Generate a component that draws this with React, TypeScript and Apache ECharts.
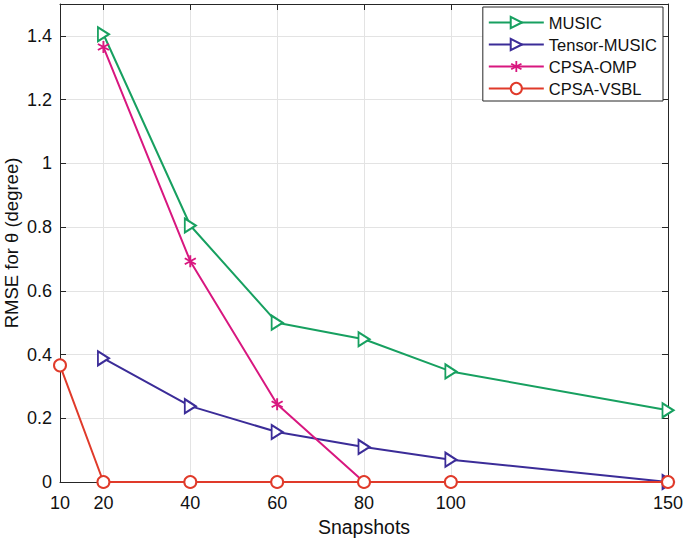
import React, { useEffect, useRef } from "react";
import * as echarts from "echarts";

const snapshots = [20, 40, 60, 80, 100, 150];
const music = [1.405, 0.805, 0.5, 0.448, 0.347, 0.225];
const tensorMusic = [0.388, 0.238, 0.157, 0.11, 0.07, 0.0];
const cpsaOmp = [1.365, 0.693, 0.244, 0.0, 0.0, 0.0];
const vsblSnapshots = [10, 20, 40, 60, 80, 100, 150];
const cpsaVsbl = [0.366, 0.0, 0.0, 0.0, 0.0, 0.0, 0.0];
const xTicks = [10, 20, 40, 60, 80, 100, 150];

const asterisk =
  "path://M-0.9,-6L0.9,-6L0.9,6L-0.9,6Z M4.746,-3.779L5.646,-2.221L-4.746,3.779L-5.646,2.221Z M5.646,2.221L4.746,3.779L-5.646,-2.221L-4.746,-3.779Z";

const FONT = "'Liberation Sans', Arial, sans-serif";

export default function App() {
  const ref = useRef<HTMLDivElement>(null);
  useEffect(() => {
    if (!ref.current) return;
    const chart = echarts.init(ref.current, undefined, { renderer: "svg" });
    const pair = (xs: number[], ys: number[]) => xs.map((x, i) => [x, ys[i]]);
    const axisLineStyle = { color: "#262626", width: 1 };
    chart.setOption({
      animation: false,
      backgroundColor: "#fff",
      textStyle: { fontFamily: FONT },
      grid: { left: 60, right: 17, top: 4, bottom: 60, containLabel: false, outerBoundsMode: "none" },
      legend: {
        orient: "vertical",
        right: 22,
        top: 7,
        padding: [7, 6, 4, 5],
        itemWidth: 55,
        itemHeight: 14,
        itemGap: 5,
        backgroundColor: "#fff",
        borderColor: "#262626",
        borderWidth: 1,
        borderRadius: 0,
        textStyle: { fontSize: 16.5, color: "#111", fontFamily: FONT },
        data: ["MUSIC", "Tensor-MUSIC", "CPSA-OMP", "CPSA-VSBL"],
      },
      xAxis: [
        {
          type: "value",
          min: 10,
          max: 150,
          name: "Snapshots",
          nameLocation: "middle",
          nameGap: 35,
          nameMoveOverlap: false,
          nameTextStyle: { fontSize: 19.5, color: "#111", fontFamily: FONT },
          axisLine: { show: true, onZero: false, lineStyle: axisLineStyle },
          axisTick: { show: true, inside: true, length: 6, customValues: xTicks, lineStyle: axisLineStyle },
          axisLabel: { customValues: xTicks, fontSize: 18, color: "#111", margin: 12, fontFamily: FONT },
          splitLine: { show: true, lineStyle: { color: "#e3e3e3", width: 1 } },
        },
        {
          type: "value",
          position: "top",
          min: 10,
          max: 150,
          axisLine: { show: true, onZero: false, lineStyle: axisLineStyle },
          axisTick: { show: true, inside: true, length: 6, customValues: xTicks, lineStyle: axisLineStyle },
          axisLabel: { show: false },
          splitLine: { show: false },
        },
      ],
      yAxis: [
        {
          type: "value",
          min: 0,
          max: 1.5,
          interval: 0.2,
          name: "RMSE for θ (degree)",
          nameLocation: "middle",
          nameGap: 39,
          nameMoveOverlap: false,
          nameTextStyle: { fontSize: 18.5, lineHeight: 19, color: "#111", fontFamily: FONT },
          axisLine: { show: true, onZero: false, lineStyle: axisLineStyle },
          axisTick: { show: true, inside: true, length: 6, lineStyle: axisLineStyle },
          axisLabel: {
            fontSize: 18,
            color: "#111",
            margin: 8,
            fontFamily: FONT,
            showMaxLabel: false,
            formatter: (v: number) => String(+v.toFixed(1)),
          },
          splitLine: { show: true, lineStyle: { color: "#e3e3e3", width: 1 } },
        },
        {
          type: "value",
          position: "right",
          min: 0,
          max: 1.5,
          interval: 0.2,
          axisLine: { show: true, onZero: false, lineStyle: axisLineStyle },
          axisTick: { show: true, inside: true, length: 6, lineStyle: axisLineStyle },
          axisLabel: { show: false },
          splitLine: { show: false },
        },
      ],
      series: [
        {
          name: "MUSIC",
          type: "line",
          data: pair(snapshots, music),
          symbol: "emptyTriangle",
          symbolSize: [14, 11],
          symbolRotate: -90,
          color: "#17a060",
          lineStyle: { width: 2, color: "#17a060" },
          itemStyle: { color: "#17a060", borderWidth: 2 },
          z: 2,
        },
        {
          name: "Tensor-MUSIC",
          type: "line",
          data: pair(snapshots, tensorMusic),
          symbol: "emptyTriangle",
          symbolSize: [14, 11],
          symbolRotate: -90,
          color: "#3b2c98",
          lineStyle: { width: 2, color: "#3b2c98" },
          itemStyle: { color: "#3b2c98", borderWidth: 2 },
          z: 3,
        },
        {
          name: "CPSA-OMP",
          type: "line",
          data: pair(snapshots, cpsaOmp),
          symbol: asterisk,
          symbolSize: 12,
          color: "#d8177f",
          lineStyle: { width: 2, color: "#d8177f" },
          itemStyle: { color: "#d8177f", borderWidth: 0 },
          z: 4,
        },
        {
          name: "CPSA-VSBL",
          type: "line",
          data: pair(vsblSnapshots, cpsaVsbl),
          symbol: "emptyCircle",
          symbolSize: 12,
          color: "#e03a2a",
          lineStyle: { width: 2, color: "#e03a2a" },
          itemStyle: { color: "#e03a2a", borderWidth: 2 },
          z: 5,
        },
      ],
    });
    return () => chart.dispose();
  }, []);
  return <div ref={ref} style={{ width: 685, height: 542, position: "absolute", left: 0, top: 0 }} />;
}
